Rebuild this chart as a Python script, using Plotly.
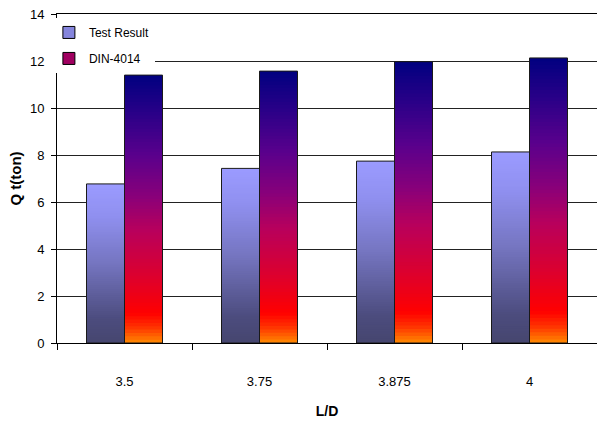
import plotly.graph_objects as go

categories = ["3.5", "3.75", "3.875", "4"]
test_result = [6.77, 7.43, 7.74, 8.13]
din_4014 = [11.40, 11.57, 11.97, 12.13]
y_ticks = [0, 2, 4, 6, 8, 10, 12, 14]

FONT = "Liberation Sans Narrow, Arial Narrow, Liberation Sans, Arial, sans-serif"
N = 80

def hex2rgb(h):
    h = h.lstrip("#")
    return tuple(int(h[i:i + 2], 16) for i in (0, 2, 4))

def interp(stops, f):
    for (f0, c0), (f1, c1) in zip(stops, stops[1:]):
        if f0 <= f <= f1:
            t = 0 if f1 == f0 else (f - f0) / (f1 - f0)
            a, b = hex2rgb(c0), hex2rgb(c1)
            r = [round(a[k] + (b[k] - a[k]) * t) for k in range(3)]
            return f"rgb({r[0]},{r[1]},{r[2]})"
    return stops[-1][1]

# fraction measured from bar bottom (0) to bar top (1)
test_stops = [(0.0, "#46466f"), (0.15, "#4c4c7e"), (0.5, "#7575c0"), (0.8, "#9090f0"), (1.0, "#9b9bff")]
din_stops = [(0.0, "#ff8a00"), (0.06, "#ff3000"), (0.11, "#ff0000"), (0.25, "#dc002e"),
             (0.42, "#b8005c"), (0.55, "#88007a"), (0.7, "#5a008c"), (0.85, "#2c0088"), (1.0, "#000080")]

fig = go.Figure()

def add_gradient(values, stops, group):
    # nested solid bars from 0, tallest first: no seams between colour bands
    for i in range(N, 0, -1):
        f = (i - 0.5) / N
        fig.add_trace(go.Bar(
            x=categories,
            y=[v * i / N for v in values],
            offsetgroup=group,
            marker=dict(color=interp(stops, f), line=dict(width=0)),
            showlegend=False, hoverinfo="skip",
        ))
    fig.add_trace(go.Bar(
        x=categories, y=values, offsetgroup=group,
        marker=dict(color="rgba(0,0,0,0)", line=dict(color="#1a1a1a", width=1)),
        showlegend=False,
    ))

add_gradient(test_result, test_stops, "a")
add_gradient(din_4014, din_stops, "b")

# legend entries
fig.add_trace(go.Bar(x=[None], y=[None], name="Test Result", offsetgroup="a",
                     legendgroup="t", legendrank=1,
                     marker=dict(color="#8585dd", line=dict(color="#000", width=1))))
fig.add_trace(go.Bar(x=[None], y=[None], name="DIN-4014", offsetgroup="b",
                     legendgroup="d", legendrank=2,
                     marker=dict(color="#a00060", line=dict(color="#000", width=1))))

fig.update_layout(
    width=597, height=421,
    margin=dict(l=57, r=0, t=14, b=78, autoexpand=False),
    paper_bgcolor="white", plot_bgcolor="white",
    barmode="group", bargap=0.437, bargroupgap=0,
    font=dict(family=FONT, size=13, color="#000"),
    legend=dict(x=-0.015, y=0.988, xanchor="left", yanchor="top",
                bgcolor="white", borderwidth=0, font=dict(size=12),
                itemwidth=30, tracegroupgap=7),
    xaxis=dict(
        type="category", tickson="boundaries", ticks="outside", ticklen=6,
        tickcolor="#000", showline=True, linecolor="#000", linewidth=1,
        mirror=True,
        showgrid=False, automargin=False, ticklabelstandoff=26,
        tickfont=dict(size=13),
        title=dict(text="<b>L/D</b>", standoff=18, font=dict(size=14)),
    ),
    yaxis=dict(
        range=[0, 14], tickvals=y_ticks, ticks="outside", ticklen=5,
        tickcolor="#000", showline=True, linecolor="#000", linewidth=1,
        showgrid=True, gridcolor="#222222", gridwidth=1, zeroline=False,
        automargin=False, ticklabelstandoff=4, tickfont=dict(size=13),
        title=dict(text="<b>Q t(ton)</b>", standoff=4, font=dict(size=15)),
    ),
)

fig.write_html(
    "out.html",
    config={"displayModeBar": False},
    post_script="document.body.style.margin='0';document.body.style.overflow='hidden';",
)
